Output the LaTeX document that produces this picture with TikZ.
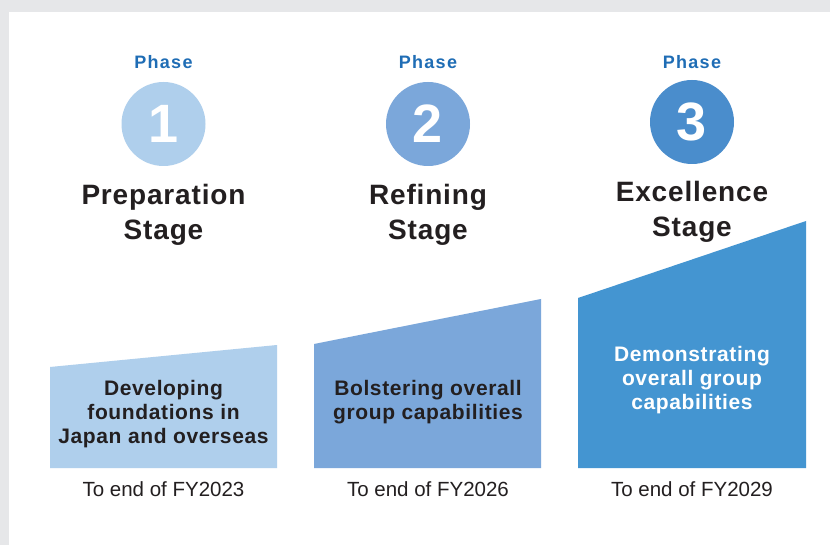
\documentclass[tikz,border=0pt]{standalone}
\usepackage{fontspec}
\setmainfont{Liberation Sans}
\newfontfamily\trk{Liberation Sans}[LetterSpace=3]
\newfontfamily\trkp{Liberation Sans}[LetterSpace=7]
\definecolor{bgGray}{HTML}{E6E7E9}
\definecolor{cOne}{HTML}{AFCFEC}
\definecolor{cTwo}{HTML}{7BA7DA}
\definecolor{cThree}{HTML}{4495D1}
\definecolor{cThreeC}{HTML}{4A8DCC}
\definecolor{phaseBlue}{HTML}{1F6DB5}
\definecolor{ink}{HTML}{231F20}
\tikzset{
  phaselbl/.style={font=\trkp\bfseries\fontsize{18}{20}\selectfont, text=phaseBlue, anchor=base, inner sep=0pt},
  digit/.style={font=\bfseries\fontsize{54}{60}\selectfont, text=white, inner sep=0pt},
  titlelbl/.style={font=\trk\bfseries\fontsize{28}{35.5}\selectfont, text=ink, align=center, anchor=base, inner sep=0pt},
  boxlbl/.style={font=\trk\bfseries\fontsize{21}{24}\selectfont, text=ink, align=center, anchor=base, inner sep=0pt},
  datelbl/.style={font=\fontsize{20.5}{24}\selectfont, text=ink, anchor=base, inner sep=0pt},
}
\begin{document}
\begin{tikzpicture}[x=1pt,y=-1pt]
\useasboundingbox (0,0) rectangle (830,545);
\fill[bgGray] (0,0) rectangle (830,545);
\fill[white] (9,12) rectangle (830,545);
% boxes
\fill[cOne] (50,468) -- (50,367) -- (277,345) -- (277,468) -- cycle;
\fill[cTwo] (314,468) -- (314,344) -- (541,299) -- (541,468) -- cycle;
\fill[cThree] (578,468) -- (578,298) -- (806,221) -- (806,468) -- cycle;
% circles
\fill[cOne] (163.5,124) circle (42);
\fill[cTwo] (428,124) circle (42);
\fill[cThreeC] (692,122) circle (42);
\node[digit] (d1) at (163.5,124) {1};
\node[digit] (d2) at (428,124) {2};
\node[digit] (d3) at (692,122) {3};
% phase labels
\node[phaselbl] (p1) at (163.5,69) {Phase};
\node[phaselbl] (p2) at (428,69) {Phase};
\node[phaselbl] (p3) at (692,69) {Phase};
% titles (anchor = baseline of last line)
\node[titlelbl] (t1) at (163.5,240) {Preparation\\Stage};
\node[titlelbl] (t2) at (428,240) {Refining\\Stage};
\node[titlelbl] (t3) at (692,237) {Excellence\\Stage};
% box texts
\node[boxlbl] (b1) at (163.5,443) {Developing\\foundations in\\Japan and overseas};
\node[boxlbl] (b2) at (428,419) {Bolstering overall\\group capabilities};
\node[boxlbl, text=white] (b3) at (692,409) {Demonstrating\\overall group\\capabilities};
% dates
\node[datelbl] (f1) at (163.5,496) {To end of FY2023};
\node[datelbl] (f2) at (428,496) {To end of FY2026};
\node[datelbl] (f3) at (692,496) {To end of FY2029};
\end{tikzpicture}
\end{document}
